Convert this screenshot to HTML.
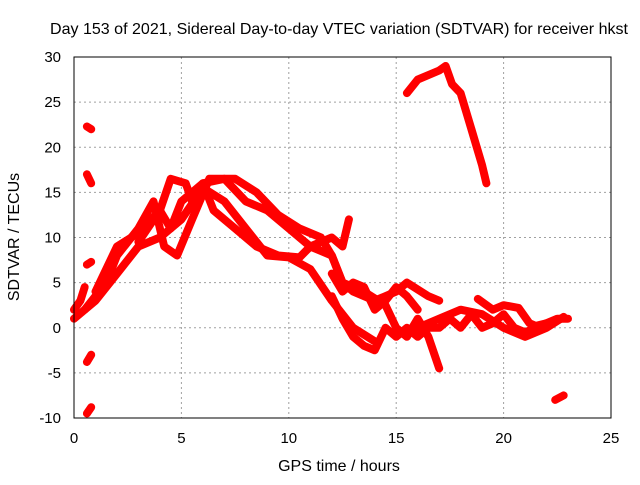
<!DOCTYPE html>
<html><head><meta charset="utf-8"><style>
body{margin:0;background:#fff}
svg text{font-family:"Liberation Sans",Arial,sans-serif;font-size:15px;fill:#000}
</style></head><body>
<svg id="chart" width="640" height="480" viewBox="0 0 640 480">
<rect width="640" height="480" fill="#fff"/>
<text x="339" y="34" text-anchor="middle" style="font-size:16px" textLength="578" lengthAdjust="spacingAndGlyphs">Day 153 of 2021, Sidereal Day-to-day VTEC variation (SDTVAR) for receiver hkst</text>
<g id="grid"></g>
<g id="ticks"></g>
<g id="series"></g>
<rect x="74" y="57" width="537" height="361" fill="none" stroke="#000" stroke-width="1"/>
<text x="339" y="471" text-anchor="middle" style="font-size:16px">GPS time / hours</text>
<text transform="translate(19,237) rotate(-90)" text-anchor="middle" style="font-size:16px">SDTVAR / TECUs</text>
</svg>
<script>
const xTicks=[0,5,10,15,20,25];
const yTicks=[-10,-5,0,5,10,15,20,25,30];
const trackA=[[0,1],[1,3],[2,6],[3,9],[4,10],[5,12],[6,15.5],[7,14],[8,11],[9,8],[10,7.8],[11,6.5],[12,3],[13,0],[14,-1.5]];
const trackB=[[0.5,2],[1.5,5],[2,8],[3,11],[3.7,14],[4.2,9],[4.8,8],[5.5,12],[6.3,16.5],[7.5,16.5],[8.5,15],[9.5,12.5],[10.5,11],[11.5,10],[12,8],[12.5,5],[13.5,4],[14.5,2.5],[15,0],[15.5,-1],[16,1],[16.5,-1],[17,-4.5]];
const trackC=[[1,4],[2,9],[3,10.5],[4,13],[4.5,11],[5,14],[5.5,15],[6,16],[7,16.5],[8,14],[9,13],[10,11],[11,9],[12,8],[12.5,5],[13,4],[14,3],[15,4],[15.5,5],[16.5,3.5],[17,3]];
const trackD=[[3,9.5],[4,13],[4.5,16.5],[5.2,16],[5.5,14],[6,16],[6.5,13],[7.5,11],[8.5,9],[9.5,8],[10.5,7.8],[11,9],[12,10],[12.5,9],[12.8,12]];
const trackE=[[15.5,26],[16,27.5],[17,28.5],[17.3,29],[17.6,27],[18,26],[18.5,22],[19,18],[19.2,16]];
const trackF=[[0.6,22.3],[0.8,22]];
const trackG=[[0.6,17],[0.8,16]];
const trackH=[[0.6,-3.8],[0.8,-3]];
const trackI=[[0.6,-9.5],[0.8,-8.8]];
const trackJ=[[22.4,-8],[22.8,-7.5]];
const trackK=[[12,3.5],[12.5,1],[13,-1],[13.5,-2],[14,-2.5],[14.5,0],[15,-1],[15.5,0],[16,-1],[16.5,0],[17,0],[17.5,1],[18,0],[18.5,1.5],[19,0],[19.5,0.5],[20,1.5],[20.5,0],[21,-0.5],[21.5,0],[22,0.5],[22.5,1],[23,1]];
const trackL=[[18.8,3.2],[19.5,2],[20,2.5],[20.7,2.2],[21.2,0.5],[21.5,0.2],[22,0.5]];
const trackM=[[16,0],[17,1],[18,2],[19,1.5],[20,0],[21,-1],[22,0],[22.8,1.2]];
const trackN=[[12,6],[12.5,4],[13,5],[13.5,4.5],[14,2],[14.5,3],[15,4.5],[15.5,3.5],[16,2]];
const trackO=[[0,2],[0.3,3],[0.5,4.5]];
const trackP=[[0.6,7],[0.8,7.3]];
const tracks=[trackA,trackB,trackC,trackD,trackE,trackF,trackG,trackH,trackI,trackJ,trackK,trackL,trackM,trackN,trackO,trackP];
const X0=74,X1=611,Y0=418,Y1=57;
const sx=h=>X0+(h-0)/25*(X1-X0);
const sy=v=>Y0-(v+10)/40*(Y0-Y1);
const NS='http://www.w3.org/2000/svg';
const grid=document.getElementById('grid'),ticks=document.getElementById('ticks'),ser=document.getElementById('series');
function mk(tag,attrs,parent){const e=document.createElementNS(NS,tag);for(const k in attrs)e.setAttribute(k,attrs[k]);parent.appendChild(e);return e;}
xTicks.forEach(t=>{const x=sx(t);
 if(t>0&&t<25){const g=mk('line',{x1:x,x2:x,y1:Y1,y2:Y0,stroke:'#a0a0a0','stroke-dasharray':'2,3'},grid);
 
 }
 const l=mk('text',{x:x,y:443,'text-anchor':'middle'},ticks);l.textContent=t;
 
 });
yTicks.forEach(t=>{const y=sy(t);
 if(t>-10&&t<30){const g=mk('line',{x1:X0,x2:X1,y1:y,y2:y,stroke:'#a0a0a0','stroke-dasharray':'2,3'},grid);
 
 }
 const l=mk('text',{x:61,y:y+5,'text-anchor':'end'},ticks);l.textContent=t;
 
 });
tracks.forEach(tr=>{const d=tr.map((p,i)=>(i?'L':'M')+sx(p[0]).toFixed(1)+','+sy(p[1]).toFixed(1)).join(' ');
 const p=mk('path',{d:d,fill:'none',stroke:'#ff0000','stroke-width':8,'stroke-linejoin':'round','stroke-linecap':'round'},ser);
 
 });
</script>
</body></html>
